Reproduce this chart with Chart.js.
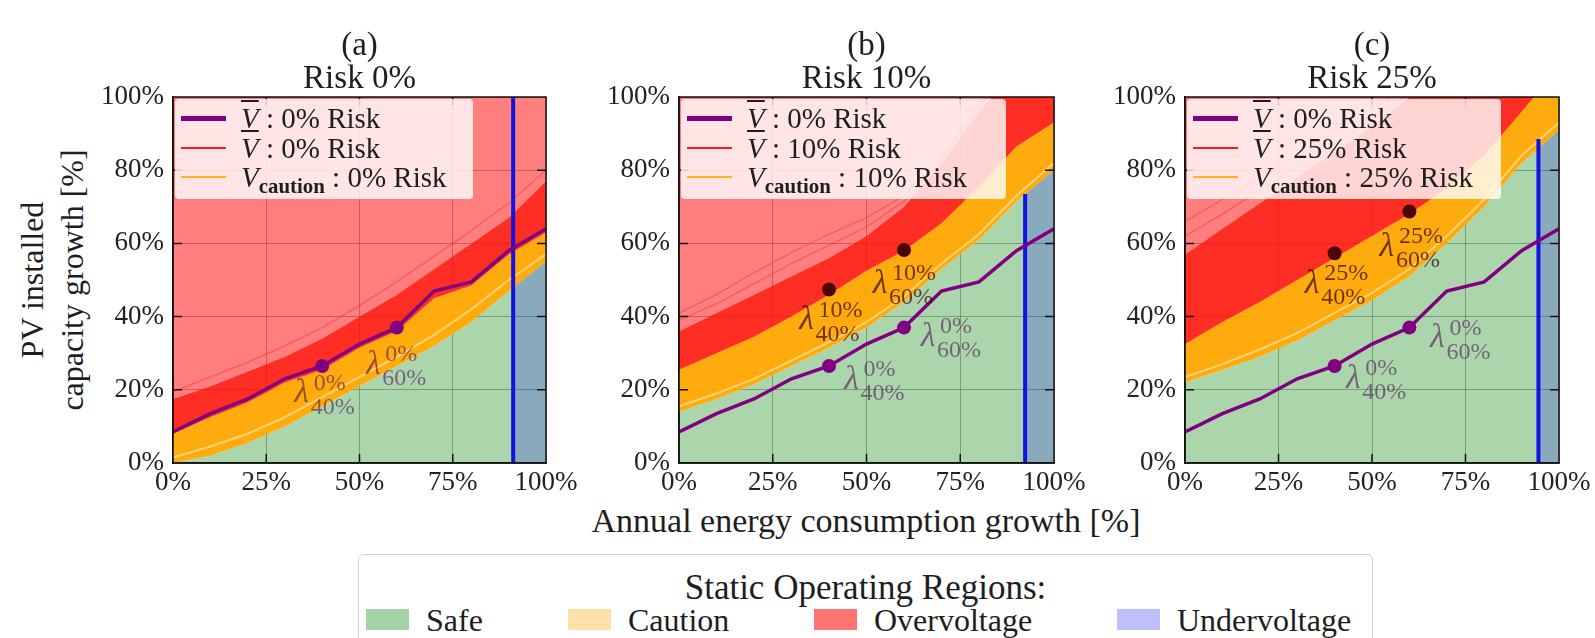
<!DOCTYPE html>
<html>
<head>
<meta charset="utf-8">
<title>Static operating regions</title>
<script src="https://cdn.jsdelivr.net/npm/chart.js@4.4.1/dist/chart.umd.min.js"></script>
<style>
  body { margin: 0; width: 1595px; height: 638px; position: relative; overflow: hidden; background: #fff;
    font-family: "Liberation Serif", "DejaVu Serif", serif; color: #1e1e1e; }
  canvas { position: absolute; top: 57px; }
  .ptitle { position: absolute; top: 28px; width: 300px; text-align: center; font-size: 33px; line-height: 33px; }
  .plegend { position: absolute; top: 99px; height: 100px; background: rgba(255,255,255,0.8); border-radius: 4px; font-size: 29px; }
  .handle { position: absolute; left: 6px; width: 45px; }
  .ltext { position: absolute; left: 66px; height: 30px; line-height: 30px; white-space: nowrap; }
  .vb { font-style: italic; text-decoration: overline; }
  .ltext sub { font-size: 0.72em; font-weight: bold; vertical-align: -0.3em; line-height: 0; }
  #ytitle { position: absolute; left: -146px; top: 238px; width: 400px; height: 84px; transform: rotate(-90deg);
    text-align: center; font-size: 32px; line-height: 40px; }
  #xtitle { position: absolute; left: 466px; width: 800px; top: 503px; text-align: center; font-size: 34px; line-height: 36px; }
  #regions { position: absolute; left: 358px; top: 554px; width: 1013px; height: 100px; border: 1px solid #cfcfcf; border-radius: 6px; }
  #regions .rt { position: absolute; left: 0; right: 0; top: 16px; text-align: center; font-size: 35px; line-height: 34px; }
  #regions .patch { position: absolute; top: 54px; width: 43px; height: 21px; }
  #regions .rl { position: absolute; top: 48px; font-size: 32px; line-height: 34px; white-space: nowrap; }
</style>
</head>
<body>
<div id="ytitle">PV installed<br>capacity growth [%]</div>
<div id="xtitle">Annual energy consumption growth [%]</div>
<div id="regions">
  <div class="rt">Static Operating Regions:</div>
</div>
<script>
// axes
const growthX = [0, 10, 20, 30, 40, 50, 60, 70, 80, 90, 100];
const xTickValues = [0, 25, 50, 75, 100];
const xTickLabels = ["0%", "25%", "50%", "75%", "100%"];
const yTickValues = [0, 20, 40, 60, 80, 100];
const yTickLabels = ["0%", "20%", "40%", "60%", "80%", "100%"];

const panelNames = ["(a)", "(b)", "(c)"];
const riskLabels = ["0%", "10%", "25%"];

// V bar at 0% risk, same in every panel
const vbarZero = [8.5, 13.5, 17.5, 23, 26.5, 32.5, 37, 47, 49.5, 58, 64];
const lambdaX = [40, 60];
const lambdaZeroY = [26.5, 37];

// panel (a) 0% risk
const cautionLowA = [0, 2, 5.5, 10, 15.5, 21, 26.5, 32, 38.5, 47, 55];
const cautionPaleA = [1.5, 4.5, 8, 12.5, 18, 23.5, 29, 35, 42, 50, 57];
const riskLowA = [8, 12.5, 16.5, 22, 25.5, 31.5, 36, 45, 48.5, 57, 63];
const riskHighA = [17.5, 21, 25, 29, 34, 40, 46, 53, 60, 67, 77];
const faintA = [19.5, 23.5, 27.5, 32, 37, 43, 49.5, 56.5, 63.5, 71, 80];

// panel (b) 10% risk
const cautionLowB = [14, 17.5, 21.5, 26.5, 31.5, 37, 44, 53, 61, 71.5, 80];
const cautionPaleB = [15.5, 19, 23, 28, 33, 38.5, 45.5, 54.5, 62.5, 73, 82];
const riskLowB = [25.5, 30, 34.5, 40, 46, 52.5, 58, 65.5, 75.5, 86.5, 93];
const riskHighB = [36, 41, 46, 51, 56, 62, 70, 82, 96, 108, 115];
const faintB1 = [41, 46, 52, 57.5, 62.5, 67, 73, 84, 98, 110, 117];
const faintB2 = [39, 43.5, 49, 54.5, 59.5, 64.5, 71.5, 83, 97, 109, 116];
const lambdaTenY = [47.4, 58.2];

// panel (c) 25% risk
const cautionLowC = [22, 25.5, 29, 33.5, 39, 44.5, 51, 60, 70, 82, 91];
const cautionPaleC = [23.5, 27, 31, 35.5, 41, 46.5, 53, 62, 72, 84, 93];
const riskLowC = [32.5, 38.5, 44, 50, 56, 62, 68, 75, 84, 96, 108];
const riskHighC = [57, 64, 71, 78, 85, 92, 100, 106, 112, 118, 124];
const faintC1 = [62, 68, 74.5, 81, 87, 94, 101, 107, 113, 119, 125];
const faintC2 = [66, 72, 78, 84, 90, 97, 103, 109, 115, 121, 127];
const lambdaQuarterY = [57.3, 68.7];

// undervoltage boundary: x position, top of the blue line, fill top at [x, 100%]
const underX = [91.2, 92.3, 94.5];
const underLineTop = [100, 73.5, 88.5];
const underFillA = [48, 55];
const underFillB = [73.5, 80];
const underFillC = [86, 91];

const serif = "'Liberation Serif', 'DejaVu Serif', serif";
const zeroText = "rgba(70,0,80,0.55)";
const riskText = "rgba(50,0,0,0.7)";

const panels = [
  {
    canvasLeft: 90, plotLeft: 173, plotRight: 546, legendWidth: 298,
    cautionLow: cautionLowA, cautionPale: cautionPaleA, riskLow: riskLowA, riskHigh: riskHighA,
    faint: [faintA], underFill: underFillA, riskDots: null,
    labels: [
      { x: 34.5, y: 19, sup: "0%", sub: "40%", color: zeroText },
      { x: 53.7, y: 26.8, sup: "0%", sub: "60%", color: zeroText },
    ],
  },
  {
    canvasLeft: 595, plotLeft: 679, plotRight: 1054, legendWidth: 325,
    cautionLow: cautionLowB, cautionPale: cautionPaleB, riskLow: riskLowB, riskHigh: riskHighB,
    faint: [faintB1, faintB2], underFill: underFillB, riskDots: lambdaTenY,
    labels: [
      { x: 46, y: 22.7, sup: "0%", sub: "40%", color: zeroText },
      { x: 66.4, y: 34.4, sup: "0%", sub: "60%", color: zeroText },
      { x: 34, y: 39, sup: "10%", sub: "40%", color: riskText },
      { x: 53.6, y: 49, sup: "10%", sub: "60%", color: riskText },
    ],
  },
  {
    canvasLeft: 1100, plotLeft: 1185, plotRight: 1559, legendWidth: 314,
    cautionLow: cautionLowC, cautionPale: cautionPaleC, riskLow: riskLowC, riskHigh: riskHighC,
    faint: [faintC1, faintC2], underFill: underFillC, riskDots: lambdaQuarterY,
    labels: [
      { x: 45, y: 23, sup: "0%", sub: "40%", color: zeroText },
      { x: 67.5, y: 34, sup: "0%", sub: "60%", color: zeroText },
      { x: 34, y: 49, sup: "25%", sub: "40%", color: riskText },
      { x: 54, y: 59, sup: "25%", sub: "60%", color: riskText },
    ],
  },
];

// frame on all four sides, ticks pointing inwards
const frameTicks = {
  id: "frameTicks",
  afterDraw(chart) {
    const { ctx, chartArea: a, scales } = chart;
    ctx.save();
    ctx.strokeStyle = "#111";
    ctx.lineWidth = 1.5;
    ctx.beginPath();
    xTickValues.slice(1, -1).forEach((v) => {
      const px = scales.x.getPixelForValue(v);
      ctx.moveTo(px, a.bottom); ctx.lineTo(px, a.bottom - 9);
      ctx.moveTo(px, a.top); ctx.lineTo(px, a.top + 9);
    });
    yTickValues.slice(1, -1).forEach((v) => {
      const py = scales.y.getPixelForValue(v);
      ctx.moveTo(a.left, py); ctx.lineTo(a.left + 9, py);
      ctx.moveTo(a.right, py); ctx.lineTo(a.right - 9, py);
    });
    ctx.stroke();
    ctx.strokeRect(a.left, a.top, a.right - a.left, a.bottom - a.top);
    ctx.restore();
  },
};

// lambda annotations next to the markers
const lambdaLabels = {
  id: "lambdaLabels",
  afterDatasetsDraw(chart, args, opts) {
    const { ctx, scales } = chart;
    ctx.save();
    opts.items.forEach((it) => {
      const x = scales.x.getPixelForValue(it.x);
      const y = scales.y.getPixelForValue(it.y);
      ctx.fillStyle = it.color;
      ctx.textBaseline = "middle";
      ctx.textAlign = "center";
      ctx.font = "italic 34px " + serif;
      ctx.fillText("\u03bb", x, y);
      ctx.textAlign = "left";
      ctx.font = "24px " + serif;
      ctx.fillText(it.sup, x + 12, y - 10);
      ctx.fillText(it.sub, x + 9, y + 14);
    });
    ctx.restore();
  },
};

function points(ys) {
  return growthX.map((x, k) => ({ x: x, y: ys[k] }));
}

function makePanel(p, i) {
  const cv = document.createElement("canvas");
  cv.width = p.plotRight - p.canvasLeft + 36;
  cv.height = 443;
  cv.style.left = p.canvasLeft + "px";
  document.body.appendChild(cv);

  const bx = underX[i];
  const datasets = [
    { data: points(p.cautionLow), fill: "origin", backgroundColor: "rgba(0,128,0,0.33)", borderColor: "transparent", order: 20 },
    { data: points(p.riskLow), fill: "-1", backgroundColor: "rgba(255,165,0,0.95)", borderColor: "transparent", order: 19 },
    { data: points(p.riskHigh), fill: "-1", backgroundColor: "rgba(255,12,0,0.86)", borderColor: "transparent", order: 18 },
    { data: points(p.riskHigh), fill: "end", backgroundColor: "rgba(255,0,0,0.5)", borderColor: "transparent", order: 18 },
    { data: [{ x: bx, y: p.underFill[0] }, { x: 100, y: p.underFill[1] }], fill: "origin", backgroundColor: "rgba(0,0,255,0.2)", borderColor: "transparent", order: 17 },
    { data: points(p.cautionPale), fill: false, borderColor: "rgba(255,222,140,0.8)", borderWidth: 2, order: 16 },
  ];
  p.faint.forEach((f) => {
    datasets.push({ data: points(f), fill: false, borderColor: "rgba(255,30,30,0.45)", borderWidth: 1.2, order: 15 });
  });
  datasets.push({ data: [{ x: bx, y: 0 }, { x: bx, y: underLineTop[i] }], fill: false, borderColor: "#1212e6", borderWidth: 4, order: 5 });
  datasets.push({ data: points(vbarZero), fill: false, borderColor: "#800080", borderWidth: 3.5, order: 3 });
  datasets.push({
    data: lambdaX.map((x, k) => ({ x: x, y: lambdaZeroY[k] })),
    showLine: false, pointRadius: 7, pointBackgroundColor: "#800080", pointBorderWidth: 0, order: 2,
  });
  if (p.riskDots) {
    datasets.push({
      data: lambdaX.map((x, k) => ({ x: x, y: p.riskDots[k] })),
      showLine: false, pointRadius: 7, pointBackgroundColor: "#4a0606", pointBorderWidth: 0, order: 1,
    });
  }

  new Chart(cv, {
    type: "line",
    data: { datasets: datasets },
    options: {
      responsive: false,
      animation: false,
      events: [],
      layout: { padding: { top: 40, right: 36, left: 0, bottom: 0 } },
      elements: { point: { radius: 0 }, line: { tension: 0, borderWidth: 0 } },
      plugins: { legend: { display: false }, tooltip: { enabled: false }, lambdaLabels: { items: p.labels } },
      scales: {
        x: {
          type: "linear", min: 0, max: 100,
          afterBuildTicks: (s) => { s.ticks = xTickValues.map((v) => ({ value: v })); },
          afterFit: (s) => { s.height = 37; },
          ticks: { callback: (v, k) => xTickLabels[k], font: { family: serif, size: 27 }, color: "#222", padding: 4, maxRotation: 0, autoSkip: false },
          grid: { color: "rgba(110,110,110,0.55)", lineWidth: 1, drawTicks: false },
          border: { color: "#111", width: 1.5 },
        },
        y: {
          type: "linear", min: 0, max: 100,
          afterBuildTicks: (s) => { s.ticks = yTickValues.map((v) => ({ value: v })); },
          afterFit: (s) => { s.width = p.plotLeft - p.canvasLeft; },
          ticks: { callback: (v, k) => yTickLabels[k], font: { family: serif, size: 27 }, color: "#222", padding: 9, autoSkip: false },
          grid: { color: "rgba(110,110,110,0.55)", lineWidth: 1, drawTicks: false },
          border: { color: "#111", width: 1.5 },
        },
      },
    },
    plugins: [frameTicks, lambdaLabels],
  });

  const t = document.createElement("div");
  t.className = "ptitle";
  t.style.left = ((p.plotLeft + p.plotRight) / 2 - 150) + "px";
  t.innerHTML = panelNames[i] + "<br>Risk " + riskLabels[i];
  document.body.appendChild(t);

  const box = document.createElement("div");
  box.className = "plegend";
  box.style.left = (p.plotLeft + 2) + "px";
  box.style.width = p.legendWidth + "px";
  const rows = [
    { color: "#800080", width: 5, html: '<span class="vb">V</span> : 0% Risk' },
    { color: "#ff1a1a", width: 1.6, html: '<span class="vb">V</span> : ' + riskLabels[i] + " Risk" },
    { color: "#ffb41e", width: 2, html: "<i>V</i><sub>caution</sub> : " + riskLabels[i] + " Risk" },
  ];
  const rowY = [19, 49, 77.5];
  rows.forEach((r, k) => {
    const h = document.createElement("div");
    h.className = "handle";
    h.style.top = (rowY[k] - r.width / 2) + "px";
    h.style.height = r.width + "px";
    h.style.background = r.color;
    box.appendChild(h);
    const tx = document.createElement("div");
    tx.className = "ltext";
    tx.style.top = (rowY[k] - 15) + "px";
    tx.innerHTML = r.html;
    box.appendChild(tx);
  });
  document.body.appendChild(box);
}

panels.forEach(makePanel);

// bottom legend of the operating regions
const regionNames = ["Safe", "Caution", "Overvoltage", "Undervoltage"];
const regionColors = ["rgba(0,128,0,0.35)", "rgba(255,165,0,0.35)", "rgba(255,0,0,0.55)", "rgba(0,0,255,0.25)"];
const regionPatchX = [7, 209, 455, 758];
const regions = document.getElementById("regions");
regionNames.forEach((name, k) => {
  const patch = document.createElement("div");
  patch.className = "patch";
  patch.style.left = regionPatchX[k] + "px";
  patch.style.background = regionColors[k];
  regions.appendChild(patch);
  const lab = document.createElement("div");
  lab.className = "rl";
  lab.style.left = (regionPatchX[k] + 60) + "px";
  lab.textContent = name;
  regions.appendChild(lab);
});
</script>
</body>
</html>
